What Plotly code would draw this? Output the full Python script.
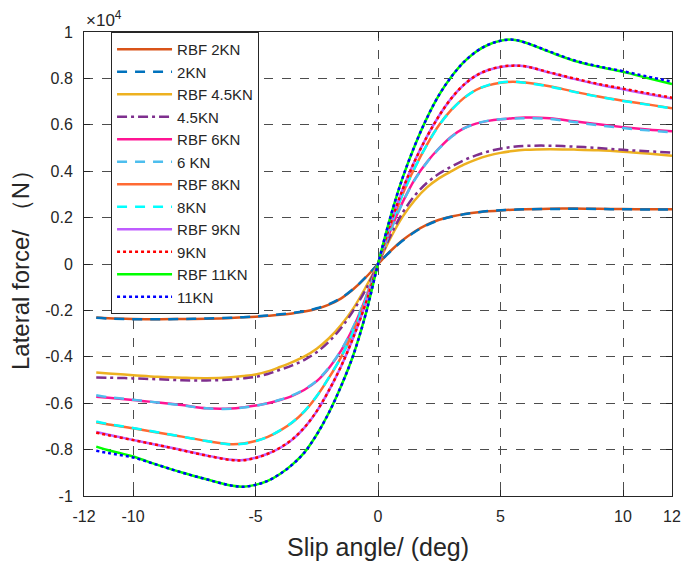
import plotly.graph_objects as go

# Slip angle (deg)
slip = [-11.5, -11, -10, -9, -8, -7, -6, -5.5, -5, -4.5, -4, -3.5, -3, -2.5, -2, -1.5, -1, -0.5,
        0, 0.5, 1, 1.5, 2, 2.5, 3, 3.5, 4, 4.5, 5, 5.5, 6, 7, 8, 9, 10, 11, 12]

# Lateral force (x1e4 N)
rbf_2kn = [-0.231, -0.234, -0.237, -0.238, -0.237, -0.236, -0.233, -0.230, -0.227, -0.223, -0.219, -0.213, -0.205, -0.193, -0.175, -0.148, -0.108, -0.058,
           0, 0.055, 0.102, 0.140, 0.170, 0.191, 0.205, 0.215, 0.222, 0.227, 0.231, 0.234, 0.236, 0.238, 0.239, 0.238, 0.237, 0.236, 0.236]
meas_2kn = [-0.232, -0.235, -0.238, -0.238, -0.237, -0.235, -0.232, -0.229, -0.226, -0.222, -0.217, -0.211, -0.203, -0.191, -0.173, -0.146, -0.107, -0.057,
            0, 0.054, 0.100, 0.138, 0.168, 0.189, 0.204, 0.214, 0.222, 0.228, 0.232, 0.234, 0.236, 0.237, 0.238, 0.237, 0.236, 0.235, 0.235]
rbf_45kn = [-0.468, -0.472, -0.479, -0.486, -0.490, -0.492, -0.488, -0.483, -0.476, -0.463, -0.444, -0.423, -0.398, -0.365, -0.320, -0.262, -0.190, -0.100,
            0, 0.110, 0.203, 0.275, 0.330, 0.370, 0.400, 0.428, 0.450, 0.467, 0.479, 0.487, 0.492, 0.495, 0.493, 0.490, 0.484, 0.476, 0.467]
meas_45kn = [-0.489, -0.490, -0.493, -0.497, -0.501, -0.502, -0.498, -0.493, -0.487, -0.474, -0.456, -0.437, -0.413, -0.380, -0.335, -0.275, -0.200, -0.110,
             0, 0.120, 0.220, 0.295, 0.350, 0.390, 0.420, 0.447, 0.468, 0.485, 0.497, 0.505, 0.509, 0.510, 0.506, 0.500, 0.492, 0.486, 0.480]
rbf_6kn = [-0.572, -0.577, -0.586, -0.597, -0.608, -0.622, -0.623, -0.618, -0.610, -0.600, -0.586, -0.568, -0.542, -0.505, -0.448, -0.372, -0.272, -0.146,
           0, 0.142, 0.265, 0.365, 0.440, 0.500, 0.550, 0.585, 0.605, 0.617, 0.624, 0.628, 0.631, 0.628, 0.615, 0.602, 0.590, 0.580, 0.572]
meas_6kn = [-0.566, -0.574, -0.585, -0.597, -0.609, -0.622, -0.624, -0.619, -0.611, -0.600, -0.585, -0.566, -0.540, -0.503, -0.446, -0.370, -0.270, -0.145,
            0, 0.141, 0.263, 0.363, 0.438, 0.498, 0.548, 0.584, 0.605, 0.618, 0.624, 0.627, 0.628, 0.625, 0.612, 0.598, 0.586, 0.576, 0.567]
rbf_8kn = [-0.682, -0.692, -0.708, -0.726, -0.744, -0.763, -0.777, -0.774, -0.763, -0.745, -0.718, -0.683, -0.635, -0.570, -0.490, -0.400, -0.290, -0.155,
           0, 0.160, 0.300, 0.415, 0.515, 0.600, 0.665, 0.715, 0.750, 0.770, 0.781, 0.786, 0.782, 0.766, 0.743, 0.722, 0.704, 0.688, 0.671]
meas_8kn = [-0.679, -0.690, -0.707, -0.725, -0.744, -0.763, -0.778, -0.775, -0.764, -0.745, -0.717, -0.682, -0.634, -0.569, -0.489, -0.399, -0.289, -0.154,
            0, 0.159, 0.299, 0.414, 0.514, 0.599, 0.664, 0.714, 0.750, 0.771, 0.782, 0.786, 0.781, 0.765, 0.742, 0.721, 0.703, 0.687, 0.670]
rbf_9kn = [-0.724, -0.736, -0.758, -0.780, -0.802, -0.825, -0.844, -0.845, -0.835, -0.818, -0.793, -0.757, -0.705, -0.635, -0.545, -0.440, -0.315, -0.170,
           0, 0.172, 0.320, 0.445, 0.550, 0.640, 0.715, 0.772, 0.812, 0.836, 0.849, 0.855, 0.852, 0.825, 0.798, 0.774, 0.753, 0.733, 0.713]
meas_9kn = [-0.727, -0.738, -0.759, -0.780, -0.803, -0.826, -0.845, -0.846, -0.836, -0.818, -0.792, -0.756, -0.704, -0.634, -0.544, -0.439, -0.314, -0.169,
            0, 0.171, 0.319, 0.444, 0.549, 0.640, 0.715, 0.772, 0.812, 0.836, 0.850, 0.855, 0.852, 0.826, 0.800, 0.776, 0.756, 0.736, 0.717]
rbf_11kn = [-0.787, -0.803, -0.830, -0.866, -0.899, -0.928, -0.955, -0.960, -0.952, -0.935, -0.905, -0.865, -0.812, -0.735, -0.640, -0.525, -0.390, -0.215,
            0, 0.200, 0.370, 0.510, 0.630, 0.730, 0.808, 0.870, 0.915, 0.945, 0.962, 0.967, 0.955, 0.914, 0.876, 0.850, 0.828, 0.802, 0.776]
meas_11kn = [-0.805, -0.815, -0.834, -0.866, -0.899, -0.928, -0.955, -0.960, -0.952, -0.935, -0.905, -0.865, -0.812, -0.735, -0.640, -0.525, -0.390, -0.215,
             0, 0.200, 0.370, 0.510, 0.630, 0.730, 0.808, 0.870, 0.915, 0.945, 0.962, 0.967, 0.955, 0.916, 0.878, 0.852, 0.831, 0.808, 0.786]

names = ["RBF 2KN", "2KN", "RBF 4.5KN", "4.5KN", "RBF 6KN", "6 KN",
         "RBF 8KN", "8KN", "RBF 9KN", "9KN", "RBF 11KN", "11KN"]
series = [rbf_2kn, meas_2kn, rbf_45kn, meas_45kn, rbf_6kn, meas_6kn,
          rbf_8kn, meas_8kn, rbf_9kn, meas_9kn, rbf_11kn, meas_11kn]
colors = ["#D95319", "#0072BD", "#EDB120", "#7E2F8E", "#FF1493", "#4DBEEE",
          "#FF6A33", "#00FFFF", "#BF5CFF", "#FF0000", "#00FF00", "#0000FF"]
dashes = ["solid", "10px,8px", "solid", "10px,4px,3px,4px", "solid", "10px,8px",
          "solid", "10px,8px", "solid", "3px,3px", "solid", "3px,3px"]

x_ticks = [-12, -10, -5, 0, 5, 10, 12]
x_ticktext = ["-12", "-10", "-5", "0", "5", "10", "12"]
y_ticks = [-1, -0.8, -0.6, -0.4, -0.2, 0, 0.2, 0.4, 0.6, 0.8, 1]
y_ticktext = ["-1", "-0.8", "-0.6", "-0.4", "-0.2", "0", "0.2", "0.4", "0.6", "0.8", "1"]

fig = go.Figure()
for name, ys, c, d in zip(names, series, colors, dashes):
    fig.add_trace(go.Scatter(
        x=slip, y=ys, name=name, mode="lines",
        line=dict(color=c, width=2.5, dash=d, shape="spline", smoothing=1.0),
    ))

font_family = "Arial, Liberation Sans, sans-serif"
axis_common = dict(
    showline=True, linecolor="#262626", linewidth=1, mirror="ticks",
    ticks="inside", ticklen=6, tickcolor="#262626",
    showgrid=True, gridcolor="#4d4d4d", griddash="dash", gridwidth=1,
    zeroline=False, automargin=False,
    tickfont=dict(family=font_family, size=16, color="#262626"),
)
fig.update_xaxes(range=[-12, 12], tickvals=x_ticks, ticktext=x_ticktext,
                 ticklabelstandoff=6,
                 title=dict(text="Slip angle/ (deg)", standoff=14,
                            font=dict(family=font_family, size=25, color="#262626")),
                 **axis_common)
fig.update_yaxes(range=[-1, 1], tickvals=y_ticks, ticktext=y_ticktext,
                 ticklabelstandoff=7,
                 title=dict(text="\u00a0" * 6 + "Lateral force/ （N）", standoff=8,
                            font=dict(family=font_family, size=24, color="#262626")),
                 **axis_common)

fig.add_annotation(text="×10<sup>4</sup>", xref="paper", yref="paper", x=0, y=1,
                   xanchor="left", yanchor="bottom", showarrow=False,
                   font=dict(family=font_family, size=17, color="#262626"))

fig.update_layout(
    width=683, height=561,
    margin=dict(l=84, r=11, t=32, b=65),
    paper_bgcolor="white", plot_bgcolor="white",
    showlegend=True,
    legend=dict(x=0.046, y=1.0, xanchor="left", yanchor="top",
                bgcolor="white", bordercolor="#262626", borderwidth=1,
                font=dict(family=font_family, size=15, color="#262626"),
                tracegroupgap=0, itemwidth=55),
)

fig.write_html("out.html")
